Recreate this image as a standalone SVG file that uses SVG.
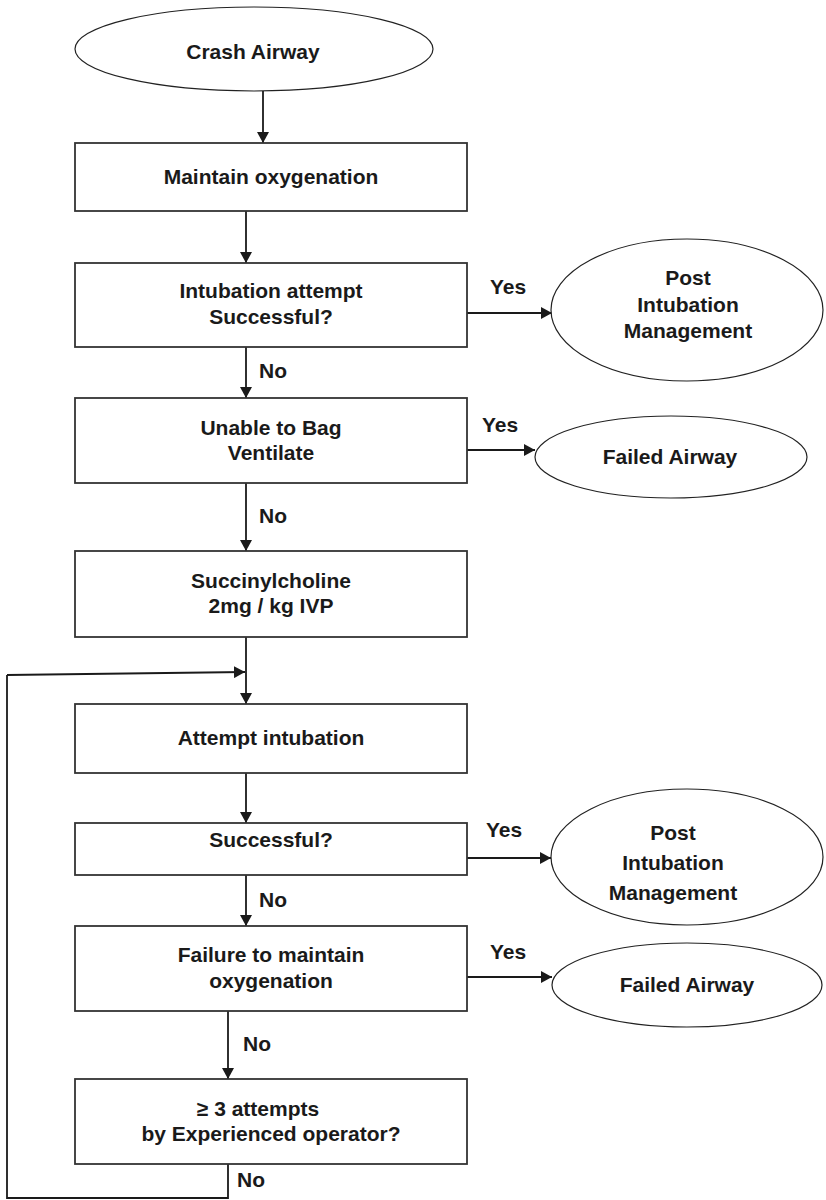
<svg xmlns="http://www.w3.org/2000/svg" width="826" height="1200" viewBox="0 0 826 1200">
<style>
.box{fill:#fff;stroke:#333;stroke-width:1.8}
.ell{fill:#fff;stroke:#222;stroke-width:1.2}
.t{font-family:"Liberation Sans",Arial,sans-serif;font-weight:bold;font-size:21px;fill:#1a1a1a;text-anchor:middle}
.lbl{font-family:"Liberation Sans",Arial,sans-serif;font-weight:bold;font-size:21px;fill:#1a1a1a}
.c{fill:none;stroke:#1a1a1a;stroke-width:1.8;marker-end:url(#ah)}
.cn{fill:none;stroke:#1a1a1a;stroke-width:1.8}
</style>
<defs>
<marker id="ah" markerUnits="userSpaceOnUse" markerWidth="12" markerHeight="12" refX="11" refY="6" orient="auto">
<path d="M0,0 L11,6 L0,12 z" fill="#1a1a1a"/>
</marker>
</defs>
<rect width="826" height="1200" fill="#fff"/>
<g id="connectors">
<line class="c" x1="263" y1="91" x2="263" y2="143"/>
<line class="c" x1="246" y1="211" x2="246" y2="263"/>
<line class="c" x1="246" y1="347" x2="246" y2="398"/>
<line class="c" x1="246" y1="483" x2="246" y2="551"/>
<line class="c" x1="246" y1="637" x2="246" y2="704"/>
<line class="c" x1="246" y1="773" x2="246" y2="823"/>
<line class="c" x1="246" y1="875" x2="246" y2="926"/>
<line class="c" x1="228" y1="1011" x2="228" y2="1079"/>
<line class="c" x1="467" y1="313" x2="552" y2="313"/>
<line class="c" x1="467" y1="450" x2="535" y2="450"/>
<line class="c" x1="467" y1="858" x2="551" y2="858"/>
<line class="c" x1="467" y1="977" x2="552" y2="977"/>
<polyline class="cn" points="228,1164 228,1198 7,1198 7,675"/>
<line class="c" x1="7" y1="675" x2="245" y2="672"/>
<text class="lbl" x="490" y="294">Yes</text>
<text class="lbl" x="482" y="432">Yes</text>
<text class="lbl" x="486" y="837">Yes</text>
<text class="lbl" x="490" y="959">Yes</text>
<text class="lbl" x="259" y="378">No</text>
<text class="lbl" x="259" y="523">No</text>
<text class="lbl" x="259" y="907">No</text>
<text class="lbl" x="243" y="1051">No</text>
<text class="lbl" x="237" y="1187">No</text>
</g>
<g id="crash-airway">
<ellipse class="ell" cx="254" cy="49" rx="179" ry="42"/>
<text class="t" x="253" y="59">Crash Airway</text>
</g>
<g id="maintain-oxygenation">
<rect class="box" x="75" y="143" width="392" height="68"/>
<text class="t" x="271" y="184">Maintain oxygenation</text>
</g>
<g id="intubation-attempt">
<rect class="box" x="75" y="263" width="392" height="84"/>
<text class="t" x="271" y="298">Intubation attempt</text>
<text class="t" x="271" y="324">Successful?</text>
</g>
<g id="post-intubation-1">
<ellipse class="ell" cx="687" cy="310" rx="136" ry="71"/>
<text class="t" x="688" y="285">Post</text>
<text class="t" x="688" y="312">Intubation</text>
<text class="t" x="688" y="338">Management</text>
</g>
<g id="unable-bag">
<rect class="box" x="75" y="398" width="392" height="85"/>
<text class="t" x="271" y="435">Unable to Bag</text>
<text class="t" x="271" y="460">Ventilate</text>
</g>
<g id="failed-airway-1">
<ellipse class="ell" cx="671" cy="457" rx="136" ry="41"/>
<text class="t" x="670" y="464">Failed Airway</text>
</g>
<g id="succinylcholine">
<rect class="box" x="75" y="551" width="392" height="86"/>
<text class="t" x="271" y="588">Succinylcholine</text>
<text class="t" x="271" y="613">2mg / kg IVP</text>
</g>
<g id="attempt-intubation">
<rect class="box" x="75" y="704" width="392" height="69"/>
<text class="t" x="271" y="745">Attempt intubation</text>
</g>
<g id="successful">
<rect class="box" x="75" y="823" width="392" height="52"/>
<text class="t" x="271" y="847">Successful?</text>
</g>
<g id="post-intubation-2">
<ellipse class="ell" cx="687" cy="857" rx="136" ry="68"/>
<text class="t" x="673" y="840">Post</text>
<text class="t" x="673" y="870">Intubation</text>
<text class="t" x="673" y="900">Management</text>
</g>
<g id="failure-oxygenation">
<rect class="box" x="75" y="926" width="392" height="85"/>
<text class="t" x="271" y="962">Failure to maintain</text>
<text class="t" x="271" y="988">oxygenation</text>
</g>
<g id="failed-airway-2">
<ellipse class="ell" cx="687" cy="985" rx="135" ry="42"/>
<text class="t" x="687" y="992">Failed Airway</text>
</g>
<g id="three-attempts">
<rect class="box" x="75" y="1079" width="392" height="85"/>
<text class="t" x="258" y="1116">≥ 3 attempts</text>
<text class="t" x="271" y="1141">by Experienced operator?</text>
</g>
</svg>
